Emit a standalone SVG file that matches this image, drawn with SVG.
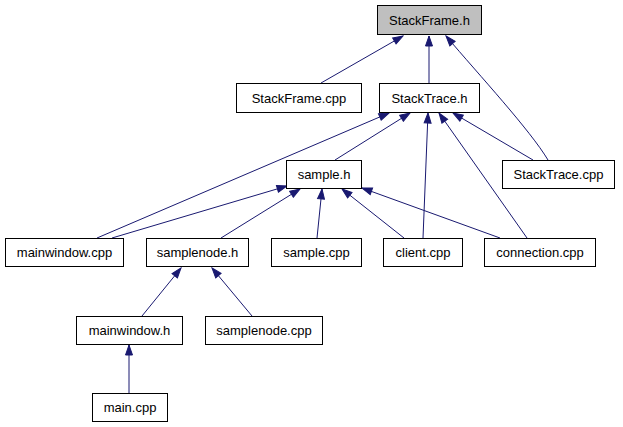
<svg xmlns="http://www.w3.org/2000/svg" width="623" height="427" viewBox="0 0 623 427">
<style>
.n rect{fill:#fff;stroke:#000;stroke-width:1}
.n text{font-family:"Liberation Sans",Arial,sans-serif;font-size:13px;fill:#000;text-anchor:middle}
#StackFrame_h rect{fill:#bfbfbf}
.e path{fill:none;stroke:#191970;stroke-width:1;marker-end:url(#arr)}
</style>
<defs>
<marker id="arr" markerUnits="userSpaceOnUse" markerWidth="12" markerHeight="9" refX="11" refY="4.5" orient="auto" viewBox="0 0 12 9">
<path d="M1,1 L11,4.5 L1,8 z" fill="#191970" stroke="#191970" stroke-width="1"/>
</marker>
</defs>
<rect width="623" height="427" fill="#fff"/>
<g id="edges" class="e">
<path d="M321,83 L403,36"/>
<path d="M429,83 L429,36"/>
<path d="M548,160 C530,130 480,76 446,36"/>
<path d="M533,160 L453,113"/>
<path d="M335,160 L410,113"/>
<path d="M97,238 L389,113"/>
<path d="M423,238 L428,113"/>
<path d="M527,238 L439,113"/>
<path d="M112,238 L287,186"/>
<path d="M221,238 L300,189"/>
<path d="M317,238 L322,189"/>
<path d="M404,238 L342,189"/>
<path d="M500,238 L362,188"/>
<path d="M142,316 L181,268"/>
<path d="M252,316 L212,268"/>
<path d="M129,393 L129,345"/>
</g>
<g id="StackFrame_h" class="n"><rect x="377.5" y="5.5" width="104" height="29"/><text x="429.5" y="24.5">StackFrame.h</text></g>
<g id="StackFrame_cpp" class="n"><rect x="236.5" y="83.5" width="125" height="29"/><text x="299" y="102.5">StackFrame.cpp</text></g>
<g id="StackTrace_h" class="n"><rect x="379.5" y="83.5" width="100" height="29"/><text x="429.5" y="102.5">StackTrace.h</text></g>
<g id="sample_h" class="n"><rect x="286.5" y="160.5" width="75" height="28"/><text x="324" y="179">sample.h</text></g>
<g id="StackTrace_cpp" class="n"><rect x="502.5" y="160.5" width="112" height="28"/><text x="558.5" y="179">StackTrace.cpp</text></g>
<g id="mainwindow_cpp" class="n"><rect x="5.5" y="238.5" width="118" height="28"/><text x="64.5" y="257">mainwindow.cpp</text></g>
<g id="samplenode_h" class="n"><rect x="146.5" y="238.5" width="102" height="28"/><text x="197.5" y="257">samplenode.h</text></g>
<g id="sample_cpp" class="n"><rect x="271.5" y="238.5" width="90" height="28"/><text x="316.5" y="257">sample.cpp</text></g>
<g id="client_cpp" class="n"><rect x="383.5" y="238.5" width="79" height="28"/><text x="423" y="257">client.cpp</text></g>
<g id="connection_cpp" class="n"><rect x="484.5" y="238.5" width="111" height="28"/><text x="540" y="257">connection.cpp</text></g>
<g id="mainwindow_h" class="n"><rect x="76.5" y="316.5" width="106" height="28"/><text x="129.5" y="335">mainwindow.h</text></g>
<g id="samplenode_cpp" class="n"><rect x="205.5" y="316.5" width="117" height="28"/><text x="264" y="335">samplenode.cpp</text></g>
<g id="main_cpp" class="n"><rect x="92.5" y="393.5" width="75" height="28"/><text x="130" y="412">main.cpp</text></g>
</svg>
